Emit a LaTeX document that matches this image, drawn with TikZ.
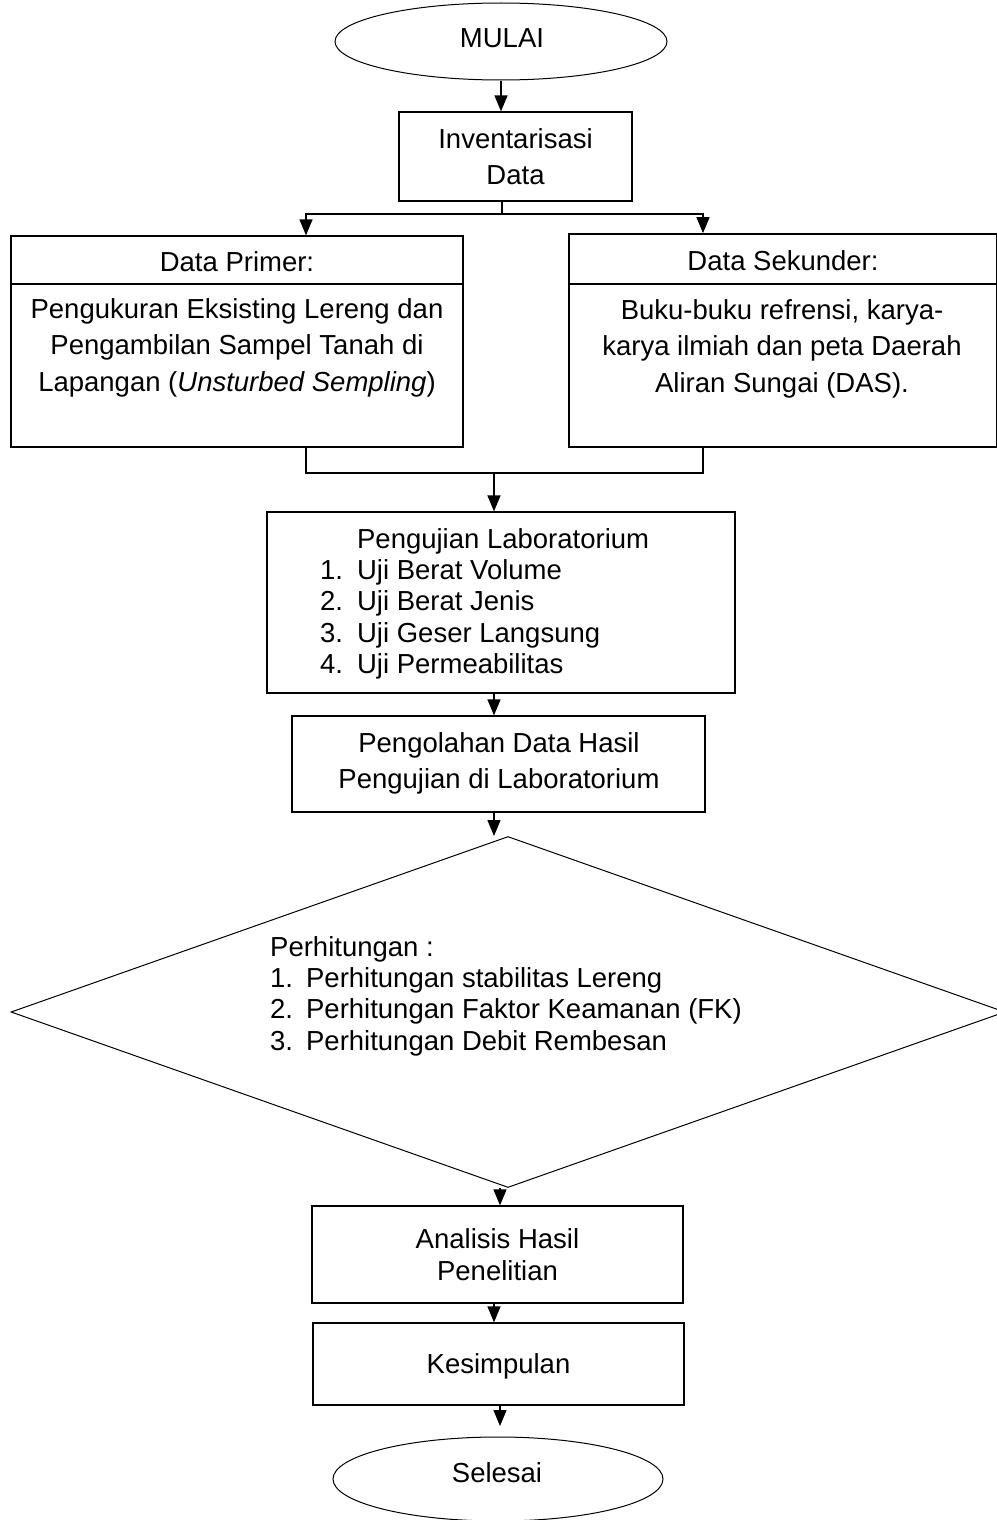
\documentclass[tikz,border=0pt]{standalone}
\usepackage{fontspec}
\setmainfont{Liberation Sans}
\usetikzlibrary{shapes.geometric,arrows.meta}
\begin{document}
\begin{tikzpicture}[x=1pt,y=-1pt,
  box/.style={draw,line width=1.3pt,inner sep=0pt,rectangle},
  thinshape/.style={draw,line width=1pt,inner sep=0pt},
  txt/.style={inner sep=0pt,anchor=base,font=\fontsize{27.5}{36.3}\selectfont},
  txtlist/.style={inner sep=0pt,anchor=base west,font=\fontsize{27.5}{31.4}\selectfont},
  conn/.style={line width=1.4pt},
  arr/.style={conn,-{Triangle[length=16pt,width=13pt]}},
]
\useasboundingbox (0,0) rectangle (996,1520);

% start
\node[thinshape,ellipse,minimum width=332pt,minimum height=77pt] (mulai) at (501,41.5) {};
\node[txt] (tmulai) at (502,48) {MULAI};

% inventarisasi
\node[box,minimum width=233pt,minimum height=89pt] (inv) at (515.5,156.5) {};
\node[txt] (tinv) at (515.5,148) {\begin{tabular}[t]{@{}c@{}}Inventarisasi\\Data\end{tabular}};

% data primer
\node[box,minimum width=452pt,minimum height=48pt] (prh) at (237,260) {};
\node[box,minimum width=452pt,minimum height=163pt] (prb) at (237,365.5) {};
\node[txt] (tprh) at (237,271) {Data Primer:};
\node[txt,font=\fontsize{27.5}{36.5}\selectfont] (tprb) at (237,318) {\begin{tabular}[t]{@{}c@{}}Pengukuran Eksisting Lereng dan\\Pengambilan Sampel Tanah di\\Lapangan (\textit{Unsturbed Sempling})\end{tabular}};

% data sekunder
\node[box,line width=1.7pt,minimum width=428pt,minimum height=50pt] (skh) at (783,259) {};
\node[box,line width=1.7pt,minimum width=428pt,minimum height=163pt] (skb) at (783,365.5) {};
\node[txt] (tskh) at (783,270) {Data Sekunder:};
\node[txt] (tskb) at (782,319.5) {\begin{tabular}[t]{@{}c@{}}Buku-buku refrensi, karya-\\karya ilmiah dan peta Daerah\\Aliran Sungai (DAS).\end{tabular}};

% pengujian
\node[box,minimum width=468pt,minimum height=181pt] (puj) at (501,602.5) {};
\node[txtlist] (tpuj) at (320,548) {\begin{tabular}[t]{@{}l@{\hspace{14pt}}l@{}}
 & Pengujian Laboratorium\\
1. & Uji Berat Volume\\
2. & Uji Berat Jenis\\
3. & Uji Geser Langsung\\
4. & Uji Permeabilitas
\end{tabular}};

% pengolahan
\node[box,minimum width=413pt,minimum height=96pt] (olh) at (498.5,764) {};
\node[txt] (tolh) at (499,752) {\begin{tabular}[t]{@{}c@{}}Pengolahan Data Hasil\\Pengujian di Laboratorium\end{tabular}};

% perhitungan
\node[thinshape,diamond,minimum width=994pt,minimum height=351pt] (dia) at (508,1012) {};
\node[txtlist] (tdia) at (270,956) {\begin{tabular}[t]{@{}l@{\hspace{13pt}}l@{}}
\multicolumn{2}{@{}l@{}}{Perhitungan :}\\
1. & Perhitungan stabilitas Lereng\\
2. & Perhitungan Faktor Keamanan (FK)\\
3. & Perhitungan Debit Rembesan
\end{tabular}};

% analisis
\node[box,minimum width=371pt,minimum height=97pt] (ana) at (497.5,1254.5) {};
\node[txt,font=\fontsize{27.5}{32}\selectfont] (tana) at (497.5,1248) {\begin{tabular}[t]{@{}c@{}}Analisis Hasil\\Penelitian\end{tabular}};

% kesimpulan
\node[box,minimum width=371pt,minimum height=82pt] (kes) at (498.5,1364) {};
\node[txt] (tkes) at (498.5,1373) {Kesimpulan};

% selesai
\node[thinshape,ellipse,minimum width=330pt,minimum height=84pt] (sel) at (498,1479) {};
\node[txt] (tsel) at (497,1482) {Selesai};

% connector points
\coordinate (b0) at (502,214);
\coordinate (bl) at (306,214);
\coordinate (br) at (703,214);
\coordinate (ml) at (306,473);
\coordinate (mr) at (703,473);
\coordinate (mc) at (494,473);
\coordinate (ac) at (500,1200);
\coordinate (sx) at (500,1426);

% connectors
\draw[arr] (mulai.south) -- (mulai.south |- inv.north);
\draw[conn] (inv.south -| b0) -- (b0);
\draw[arr] (b0) -| (bl |- prh.north);
\draw[arr] (b0) -| (br |- skh.north);
\draw[conn] (prb.south -| ml) |- (mr) -- (skb.south -| mr);
\draw[arr] (mc) -- (mc |- puj.north);
\draw[arr] (puj.south -| mc) -- (olh.north -| mc);
\draw[arr] (olh.south -| mc) -- (dia.north -| mc);
\draw[arr] (dia.south -| ac) -- (ana.north -| ac);
\draw[arr] (ana.south -| mc) -- (kes.north -| mc);
\draw[arr] (kes.south -| sx) -- (sx);
\end{tikzpicture}
\end{document}
